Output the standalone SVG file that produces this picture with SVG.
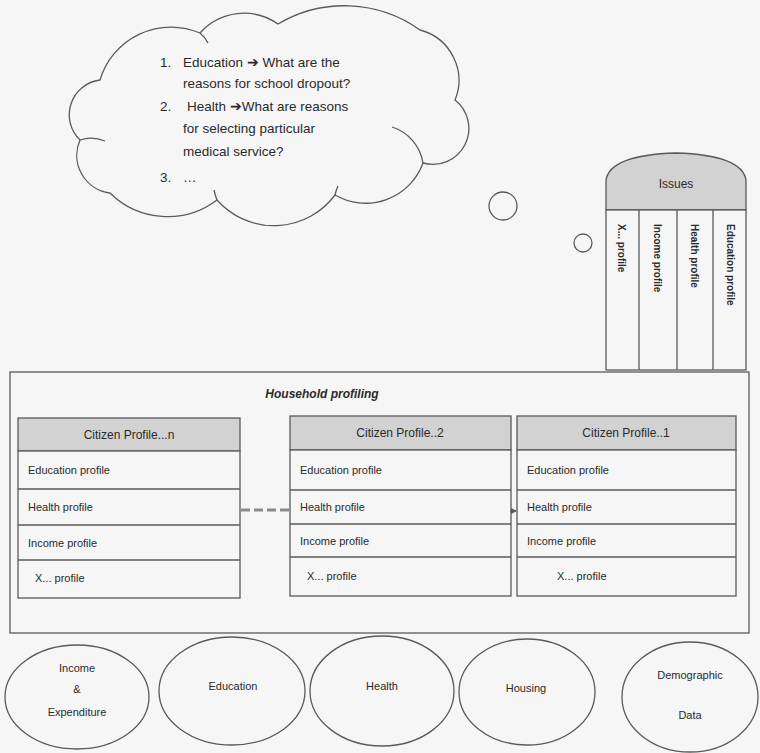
<svg xmlns="http://www.w3.org/2000/svg" width="760" height="753" viewBox="0 0 760 753">
  <style>
    .ln { fill: none; stroke: #5a5a5a; stroke-width: 1.3; }
    .box { fill: #f6f6f6; stroke: #5a5a5a; stroke-width: 1.3; }
    .hdr { fill: #d2d2d2; stroke: #5a5a5a; stroke-width: 1.3; }
    .t { font-family: "Liberation Sans", Arial, sans-serif; font-size: 11px; fill: #2a2a2a; }
    .tq { font-family: "Liberation Sans", Arial, sans-serif; font-size: 13.5px; fill: #2a2a2a; }
    .th { font-family: "Liberation Sans", Arial, sans-serif; font-size: 12px; fill: #2a2a2a; }
    .tv { font-family: "Liberation Sans", Arial, sans-serif; font-size: 10px; font-weight: bold; fill: #2a2a2a; }
    .c { text-anchor: middle; }
  </style>
  <defs>
    <marker id="tip" viewBox="0 0 6 6" refX="5" refY="3" markerWidth="5" markerHeight="5" orient="auto">
      <path d="M0,0 L6,3 L0,6 z" fill="#5a5a5a"/>
    </marker>
  </defs>
  <rect width="760" height="753" fill="#f6f6f6"/>

  <!-- thought cloud with questions -->
  <g id="cloud">
    <path class="ln" fill="#f6f6f6" d="M80,140 A35,35 0 0 1 100,80 A74,74 0 0 1 200,33 A59,59 0 0 1 278,24 A130,130 0 0 1 420,30 A52,52 0 0 1 455,100 A36,36 0 0 1 423,163 A61,61 0 0 1 335,195 A76,76 0 0 1 217,200 A82,82 0 0 1 110,193 A38,38 0 0 1 80,140 Z"/>
    <path class="ln" d="M80,140 Q92,136 105,141"/>
    <path class="ln" d="M200,33 Q205,37 208,43"/>
    <path class="ln" d="M392,127 A45,45 0 0 1 423,163"/>
    <path class="ln" d="M335,195 Q336,190 338,186"/>
    <path class="ln" d="M217,200 Q215,195 214,190"/>
    <text class="tq" x="160" y="67">1.</text>
    <text class="tq" x="183" y="67">Education ➔ What are the</text>
    <text class="tq" x="183" y="88">reasons for school dropout?</text>
    <text class="tq" x="160" y="111">2.</text>
    <text class="tq" x="187" y="111">Health ➔What are reasons</text>
    <text class="tq" x="183" y="133">for selecting particular</text>
    <text class="tq" x="183" y="156">medical service?</text>
    <text class="tq" x="160" y="182">3.</text>
    <text class="tq" x="183" y="182">…</text>
  </g>

  <!-- thought bubbles -->
  <g id="bubbles">
    <circle class="ln" cx="503" cy="206" r="14"/>
    <circle class="ln" cx="583" cy="243" r="9"/>
  </g>

  <!-- issues store -->
  <g id="issues">
    <path class="hdr" d="M606,210 L606,180 Q610,155 676,153 Q742,155 746,180 L746,210 Z"/>
    <text class="th c" x="676" y="188">Issues</text>
    <rect class="box" x="606" y="210" width="140" height="160"/>
    <line class="ln" x1="639" y1="210" x2="639" y2="370"/>
    <line class="ln" x1="677" y1="210" x2="677" y2="370"/>
    <line class="ln" x1="713" y1="210" x2="713" y2="370"/>
    <text class="tv" transform="translate(618,224) rotate(90)">X... profile</text>
    <text class="tv" transform="translate(654,224) rotate(90)">Income profile</text>
    <text class="tv" transform="translate(691,224) rotate(90)">Health profile</text>
    <text class="tv" transform="translate(727,224) rotate(90)">Education profile</text>
  </g>

  <!-- household container -->
  <g id="household">
    <rect class="box" x="10" y="372" width="739" height="261"/>
    <text class="th c" x="322" y="398" font-weight="bold" font-style="italic">Household profiling</text>
  </g>

  <!-- citizen profile n -->
  <g id="citizen-n">
    <rect class="hdr" x="18" y="418" width="222" height="33"/>
    <rect class="box" x="18" y="451" width="222" height="147"/>
    <line class="ln" x1="18" y1="489" x2="240" y2="489"/>
    <line class="ln" x1="18" y1="525" x2="240" y2="525"/>
    <line class="ln" x1="18" y1="560" x2="240" y2="560"/>
    <text class="th c" x="129" y="439">Citizen Profile...n</text>
    <text class="t" x="28" y="474">Education profile</text>
    <text class="t" x="28" y="511">Health profile</text>
    <text class="t" x="28" y="547">Income profile</text>
    <text class="t" x="35" y="582">X... profile</text>
  </g>

  <!-- citizen profile 2 -->
  <g id="citizen-2">
    <rect class="hdr" x="290" y="416" width="221" height="34"/>
    <rect class="box" x="290" y="450" width="221" height="146"/>
    <line class="ln" x1="290" y1="490" x2="511" y2="490"/>
    <line class="ln" x1="290" y1="524" x2="511" y2="524"/>
    <line class="ln" x1="290" y1="557" x2="511" y2="557"/>
    <text class="th c" x="400" y="437">Citizen Profile..2</text>
    <text class="t" x="300" y="474">Education profile</text>
    <text class="t" x="300" y="511">Health profile</text>
    <text class="t" x="300" y="545">Income profile</text>
    <text class="t" x="307" y="580">X... profile</text>
  </g>

  <!-- citizen profile 1 -->
  <g id="citizen-1">
    <rect class="hdr" x="517" y="416" width="219" height="34"/>
    <rect class="box" x="517" y="450" width="219" height="146"/>
    <line class="ln" x1="517" y1="490" x2="736" y2="490"/>
    <line class="ln" x1="517" y1="524" x2="736" y2="524"/>
    <line class="ln" x1="517" y1="557" x2="736" y2="557"/>
    <text class="th c" x="626" y="437">Citizen Profile..1</text>
    <text class="t" x="527" y="474">Education profile</text>
    <text class="t" x="527" y="511">Health profile</text>
    <text class="t" x="527" y="545">Income profile</text>
    <text class="t" x="557" y="580">X... profile</text>
  </g>

  <!-- data sources -->
  <g id="src-income">
    <ellipse class="ln" cx="77" cy="697" rx="72" ry="52"/>
    <text class="t c" x="77" y="672">Income</text>
    <text class="t c" x="77" y="693">&amp;</text>
    <text class="t c" x="77" y="716">Expenditure</text>
  </g>
  <g id="src-education">
    <ellipse class="ln" cx="232" cy="691" rx="73" ry="54"/>
    <text class="t c" x="233" y="690">Education</text>
  </g>
  <g id="src-health">
    <ellipse class="ln" cx="382" cy="691" rx="72" ry="55"/>
    <text class="t c" x="382" y="690">Health</text>
  </g>
  <g id="src-housing">
    <ellipse class="ln" cx="527" cy="692" rx="68" ry="53"/>
    <text class="t c" x="526" y="692">Housing</text>
  </g>
  <g id="src-demographic">
    <ellipse class="ln" cx="690" cy="697" rx="68" ry="55"/>
    <text class="t c" x="690" y="679">Demographic</text>
    <text class="t c" x="690" y="719">Data</text>
  </g>

  <!-- connectors -->
  <g id="connectors">
    <line x1="241" y1="510" x2="289" y2="510" stroke="#8a8a8a" stroke-width="3" stroke-dasharray="9,4"/>
    <line x1="510" y1="511" x2="516" y2="511" stroke="#5a5a5a" stroke-width="1.3" marker-end="url(#tip)"/>
  </g>
</svg>
